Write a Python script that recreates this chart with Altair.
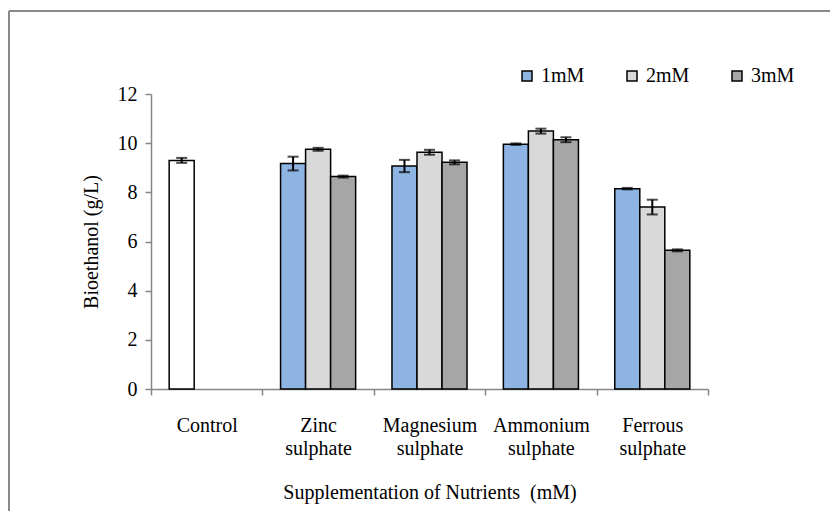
import altair as alt
import pandas as pd

categories = ["Control", "Zinc sulphate", "Magnesium sulphate", "Ammonium sulphate", "Ferrous sulphate"]
series_names = ["1mM", "2mM", "3mM"]

cat_col = ["Control",
           "Zinc sulphate", "Zinc sulphate", "Zinc sulphate",
           "Magnesium sulphate", "Magnesium sulphate", "Magnesium sulphate",
           "Ammonium sulphate", "Ammonium sulphate", "Ammonium sulphate",
           "Ferrous sulphate", "Ferrous sulphate", "Ferrous sulphate"]
series_col = ["1mM", "1mM", "2mM", "3mM", "1mM", "2mM", "3mM", "1mM", "2mM", "3mM", "1mM", "2mM", "3mM"]
values = [9.30, 9.17, 9.75, 8.64, 9.07, 9.63, 9.22, 9.96, 10.49, 10.14, 8.15, 7.40, 5.64]
errors = [0.10, 0.28, 0.06, 0.04, 0.25, 0.10, 0.08, 0.03, 0.10, 0.10, 0.03, 0.30, 0.04]

colors = ["#8EB4E3", "#D9D9D9", "#A6A6A6"]

df = pd.DataFrame({"cat": cat_col, "series": series_col, "value": values, "err": errors})
df["lo"] = df["value"] - df["err"]
df["hi"] = df["value"] + df["err"]

FONT = "Liberation Serif"
GRAY = "#868686"

x_enc = alt.X("cat:N", sort=categories,
              scale=alt.Scale(paddingInner=0, paddingOuter=0),
              axis=alt.Axis(title="Supplementation of Nutrients\u00a0\u00a0(mM)",
                            labelAngle=0, labelExpr="split(datum.label, ' ')",
                            labelLineHeight=23, labelPadding=20,
                            tickBand="extent", tickSize=6, tickColor=GRAY, tickWidth=1.5,
                            domainColor=GRAY, domainWidth=1.5,
                            labelFont=FONT, labelFontSize=20, labelColor="black",
                            titleFont=FONT, titleFontSize=20, titleFontWeight="normal",
                            titleColor="black", titlePadding=24))
xo_enc = alt.XOffset("series:N", sort=series_names,
                     scale=alt.Scale(domain=series_names, paddingInner=0, paddingOuter=0.726))
y_scale = alt.Scale(domain=[0, 12], nice=False)

bars = alt.Chart(df).mark_bar(stroke="black", strokeWidth=1.5).encode(
    x=x_enc,
    xOffset=xo_enc,
    y=alt.Y("value:Q", scale=y_scale,
            axis=alt.Axis(title="Bioethanol (g/L)", values=[0, 2, 4, 6, 8, 10, 12],
                          grid=False, tickSize=6, tickColor=GRAY, tickWidth=1.5,
                          domainColor=GRAY, domainWidth=1.5,
                          labelFont=FONT, labelFontSize=20, labelColor="black", labelPadding=8,
                          titleFont=FONT, titleFontSize=20, titleFontWeight="normal",
                          titleColor="black", titlePadding=16)),
    fill=alt.condition("datum.cat === 'Control'", alt.value("white"),
                       alt.Fill("series:N", scale=alt.Scale(domain=series_names, range=colors),
                                legend=alt.Legend(title=None, orient="none", direction="horizontal",
                                                  legendX=366, legendY=-28, padding=0,
                                                  symbolType="square", symbolSize=100,
                                                  symbolStrokeColor="black", symbolStrokeWidth=1.5,
                                                  labelFont=FONT, labelFontSize=20,
                                                  labelColor="black", labelOffset=4,
                                                  columnPadding=37))),
)

err_rule = alt.Chart(df).mark_rule(color="black", strokeWidth=2).encode(
    x=alt.X("cat:N", sort=categories), xOffset=xo_enc,
    y=alt.Y("lo:Q", scale=y_scale), y2="hi:Q")
cap_lo = alt.Chart(df).mark_tick(color="black", size=11, thickness=2).encode(
    x=alt.X("cat:N", sort=categories), xOffset=xo_enc, y=alt.Y("lo:Q", scale=y_scale))
cap_hi = alt.Chart(df).mark_tick(color="black", size=11, thickness=2).encode(
    x=alt.X("cat:N", sort=categories), xOffset=xo_enc, y=alt.Y("hi:Q", scale=y_scale))

frame_df = pd.DataFrame({"k": [0]})
frame_top = alt.Chart(frame_df).mark_rule(color="#898989", strokeWidth=2).encode(
    x=alt.value(-142), x2=alt.value(800), y=alt.value(-83))
frame_left = alt.Chart(frame_df).mark_rule(color="#898989", strokeWidth=2).encode(
    x=alt.value(-142), y=alt.value(-83), y2=alt.value(500))

chart = alt.layer(bars, err_rule, cap_lo, cap_hi, frame_top, frame_left).properties(
    width=557, height=295,
    autosize=alt.AutoSizeParams(type="none"),
    padding={"left": 143, "top": 86, "right": 122, "bottom": 122},
    background="white",
).configure_view(stroke=None)

chart.save("out.html", embed_options={"renderer": "svg", "actions": False})
